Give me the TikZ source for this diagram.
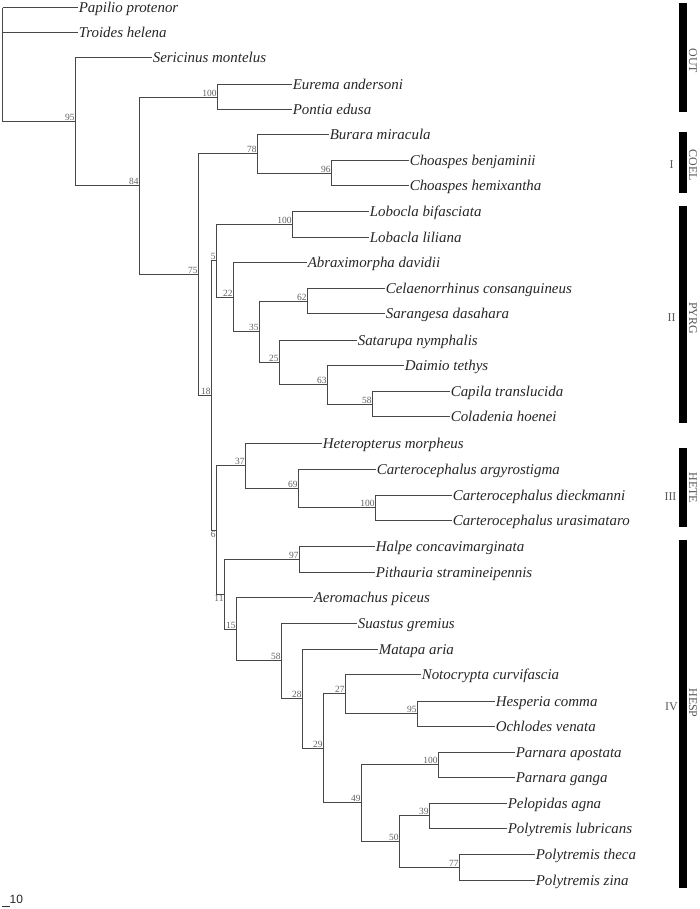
\documentclass[tikz,border=0pt]{standalone}
\usepackage{fontspec}
\setmainfont{Liberation Serif}
\newfontfamily\sansfam{Liberation Sans}
\begin{document}
\begin{tikzpicture}[x=1bp,y=-1bp,
 branch/.style={draw=black!72, line width=1bp},
 leaf/.style={anchor=west, inner xsep=0.6pt, inner ysep=0pt, text height=10pt, text depth=0pt, font=\fontsize{15}{15}\selectfont\itshape, text=black!85},
 bs/.style={anchor=south east, inner sep=0.7pt, font=\fontsize{9.5}{10}\selectfont, text=black!62},
 bsb/.style={bs, anchor=north east},
 bar/.style={fill=black, draw=none, minimum width=8bp, inner sep=0pt},
 grp/.style={rotate=-90, font=\fontsize{12}{12}\selectfont, text=black!65, inner sep=0pt},
 rom/.style={font=\fontsize{12}{12}\selectfont, text=black!65, inner sep=0pt}]
\useasboundingbox (0,0) rectangle (700,909);

% ---------- leaves ----------
\node[leaf] (pap) at (78,7.5) {Papilio protenor};
\node[leaf] (tro) at (78,32.5) {Troides helena};
\node[leaf] (ser) at (152,57.5) {Sericinus montelus};
\node[leaf] (eur) at (292,84.5) {Eurema andersoni};
\node[leaf] (pon) at (292,109.5) {Pontia edusa};
\node[leaf] (bur) at (329,134.5) {Burara miracula};
\node[leaf] (chb) at (409,160.5) {Choaspes benjaminii};
\node[leaf] (chh) at (409,185.5) {Choaspes hemixantha};
\node[leaf] (lbb) at (369,211.5) {Lobocla bifasciata};
\node[leaf] (lbl) at (369,237.5) {Lobacla liliana};
\node[leaf] (abr) at (307,262.5) {Abraximorpha davidii};
\node[leaf] (cel) at (385,288.5) {Celaenorrhinus consanguineus};
\node[leaf] (sar) at (385,313.5) {Sarangesa dasahara};
\node[leaf] (sat) at (357,340.5) {Satarupa nymphalis};
\node[leaf] (dai) at (404,365.5) {Daimio tethys};
\node[leaf] (cap) at (450,391.5) {Capila translucida};
\node[leaf] (col) at (450,416.5) {Coladenia hoenei};
\node[leaf] (het) at (322,443.5) {Heteropterus morpheus};
\node[leaf] (caa) at (376,469.5) {Carterocephalus argyrostigma};
\node[leaf] (cad) at (452,495.5) {Carterocephalus dieckmanni};
\node[leaf] (cau) at (452,520.5) {Carterocephalus urasimataro};
\node[leaf] (hal) at (375,546.5) {Halpe concavimarginata};
\node[leaf] (pit) at (375,572.5) {Pithauria stramineipennis};
\node[leaf] (aer) at (313,597.5) {Aeromachus piceus};
\node[leaf] (sua) at (357,623.5) {Suastus gremius};
\node[leaf] (mat) at (378,649.5) {Matapa aria};
\node[leaf] (not) at (421,674.5) {Notocrypta curvifascia};
\node[leaf] (hes) at (495,701.5) {Hesperia comma};
\node[leaf] (och) at (495,726.5) {Ochlodes venata};
\node[leaf] (paa) at (515,752.5) {Parnara apostata};
\node[leaf] (pag) at (515,777.5) {Parnara ganga};
\node[leaf] (pel) at (507,803.5) {Pelopidas agna};
\node[leaf] (pll) at (507,828.5) {Polytremis lubricans};
\node[leaf] (plt) at (535,854.5) {Polytremis theca};
\node[leaf] (plz) at (535,880.5) {Polytremis zina};

% ---------- internal nodes ----------
\coordinate (root) at (2.5,7.5);
\coordinate (n95) at (75.5,121.5);
\coordinate (n84) at (139.5,185.5);
\coordinate (n100a) at (217.5,97.5);
\coordinate (n75) at (198.5,274.5);
\coordinate (n78) at (257.5,153.5);
\coordinate (n96) at (331.5,173.5);
\coordinate (n18) at (211.5,395.5);
\coordinate (n5) at (216.5,260.5);
\coordinate (n100b) at (292.5,224.5);
\coordinate (n22) at (233.5,297.5);
\coordinate (n35) at (259.5,331.5);
\coordinate (n62) at (307.5,301.5);
\coordinate (n25) at (279.5,362.5);
\coordinate (n63) at (327.5,384.5);
\coordinate (n58a) at (372.5,404.5);
\coordinate (n6) at (216.5,530.5);
\coordinate (n37) at (245.5,465.5);
\coordinate (n69) at (298.5,488.5);
\coordinate (n100c) at (375.5,507.5);
\coordinate (n11) at (224.5,594.5);
\coordinate (n97) at (299.5,559.5);
\coordinate (n15) at (236.5,629.5);
\coordinate (n58b) at (281.5,660.5);
\coordinate (n28) at (302.5,698.5);
\coordinate (n29) at (323.5,748.5);
\coordinate (n27) at (345.5,693.5);
\coordinate (n95b) at (417.5,713.5);
\coordinate (n49) at (361.5,802.5);
\coordinate (n100d) at (438.5,764.5);
\coordinate (n50) at (399.5,841.5);
\coordinate (n39) at (429.5,815.5);
\coordinate (n77) at (459.5,867.5);

% ---------- branches ----------
\draw[branch] (root) |- (pap.west);
\draw[branch] (root) |- (tro.west);
\draw[branch] (root) |- (n95);
\draw[branch] (n95) |- (ser.west);
\draw[branch] (n95) |- (n84);
\draw[branch] (n84) |- (n100a);
\draw[branch] (n84) |- (n75);
\draw[branch] (n100a) |- (eur.west);
\draw[branch] (n100a) |- (pon.west);
\draw[branch] (n75) |- (n78);
\draw[branch] (n75) |- (n18);
\draw[branch] (n78) |- (bur.west);
\draw[branch] (n78) |- (n96);
\draw[branch] (n96) |- (chb.west);
\draw[branch] (n96) |- (chh.west);
\draw[branch] (n18) |- (n5);
\draw[branch] (n18) |- (n6);
\draw[branch] (n5) |- (n100b);
\draw[branch] (n5) |- (n22);
\draw[branch] (n100b) |- (lbb.west);
\draw[branch] (n100b) |- (lbl.west);
\draw[branch] (n22) |- (abr.west);
\draw[branch] (n22) |- (n35);
\draw[branch] (n35) |- (n62);
\draw[branch] (n35) |- (n25);
\draw[branch] (n62) |- (cel.west);
\draw[branch] (n62) |- (sar.west);
\draw[branch] (n25) |- (sat.west);
\draw[branch] (n25) |- (n63);
\draw[branch] (n63) |- (dai.west);
\draw[branch] (n63) |- (n58a);
\draw[branch] (n58a) |- (cap.west);
\draw[branch] (n58a) |- (col.west);
\draw[branch] (n6) |- (n37);
\draw[branch] (n6) |- (n11);
\draw[branch] (n37) |- (het.west);
\draw[branch] (n37) |- (n69);
\draw[branch] (n69) |- (caa.west);
\draw[branch] (n69) |- (n100c);
\draw[branch] (n100c) |- (cad.west);
\draw[branch] (n100c) |- (cau.west);
\draw[branch] (n11) |- (n97);
\draw[branch] (n11) |- (n15);
\draw[branch] (n97) |- (hal.west);
\draw[branch] (n97) |- (pit.west);
\draw[branch] (n15) |- (aer.west);
\draw[branch] (n15) |- (n58b);
\draw[branch] (n58b) |- (sua.west);
\draw[branch] (n58b) |- (n28);
\draw[branch] (n28) |- (mat.west);
\draw[branch] (n28) |- (n29);
\draw[branch] (n29) |- (n27);
\draw[branch] (n29) |- (n49);
\draw[branch] (n27) |- (not.west);
\draw[branch] (n27) |- (n95b);
\draw[branch] (n95b) |- (hes.west);
\draw[branch] (n95b) |- (och.west);
\draw[branch] (n49) |- (n100d);
\draw[branch] (n49) |- (n50);
\draw[branch] (n100d) |- (paa.west);
\draw[branch] (n100d) |- (pag.west);
\draw[branch] (n50) |- (n39);
\draw[branch] (n50) |- (n77);
\draw[branch] (n39) |- (pel.west);
\draw[branch] (n39) |- (pll.west);
\draw[branch] (n77) |- (plt.west);
\draw[branch] (n77) |- (plz.west);

% ---------- bootstrap values ----------
\node[bs] (l95) at (n95) {95};
\node[bs] (l84) at (n84) {84};
\node[bs] (l100a) at (n100a) {100};
\node[bs] (l75) at (n75) {75};
\node[bs] (l78) at (n78) {78};
\node[bs] (l96) at (n96) {96};
\node[bs] (l18) at (n18) {18};
\node[bs] (l5) at (n5) {5};
\node[bs] (l100b) at (n100b) {100};
\node[bs] (l22) at (n22) {22};
\node[bs] (l35) at (n35) {35};
\node[bs] (l62) at (n62) {62};
\node[bs] (l25) at (n25) {25};
\node[bs] (l63) at (n63) {63};
\node[bs] (l58a) at (n58a) {58};
\node[bsb] (l6) at (n6) {6};
\node[bs] (l37) at (n37) {37};
\node[bs] (l69) at (n69) {69};
\node[bs] (l100c) at (n100c) {100};
\node[bsb] (l11) at (n11) {11};
\node[bs] (l97) at (n97) {97};
\node[bs] (l15) at (n15) {15};
\node[bs] (l58b) at (n58b) {58};
\node[bs] (l28) at (n28) {28};
\node[bs] (l29) at (n29) {29};
\node[bs] (l27) at (n27) {27};
\node[bs] (l95b) at (n95b) {95};
\node[bs] (l49) at (n49) {49};
\node[bs] (l100d) at (n100d) {100};
\node[bs] (l50) at (n50) {50};
\node[bs] (l39) at (n39) {39};
\node[bs] (l77) at (n77) {77};

% ---------- group bars ----------
\node[bar, minimum height=109bp] (bout) at (683,57.5) {};
\node[bar, minimum height=61bp] (bcoel) at (683,162.5) {};
\node[bar, minimum height=217bp] (bpyrg) at (683,314.5) {};
\node[bar, minimum height=79bp] (bhete) at (683,487.5) {};
\node[bar, minimum height=348bp] (bhesp) at (683,714) {};

\node[grp] (tout) at (693,61) {OUT};
\node[grp] (tcoel) at (693,165) {COEL};
\node[grp] (tpyrg) at (693,318) {PYRG};
\node[grp] (thete) at (693,488) {HETE};
\node[grp] (thesp) at (693,703) {HESP};

\node[rom] (r1) at (671.5,165) {I};
\node[rom] (r2) at (671.5,318) {II};
\node[rom] (r3) at (670.5,497) {III};
\node[rom] (r4) at (671.5,707) {IV};

% ---------- scale ----------
\coordinate (sc1) at (2,906.5);
\coordinate (sc2) at (9.5,906.5);
\draw[line width=1bp, black!80] (sc1) -- (sc2);
\node[anchor=base west, inner sep=0pt, font=\sansfam\fontsize{12}{12}\selectfont, text=black!85] (sct) at (9.5,903) {10};
\end{tikzpicture}
\end{document}
